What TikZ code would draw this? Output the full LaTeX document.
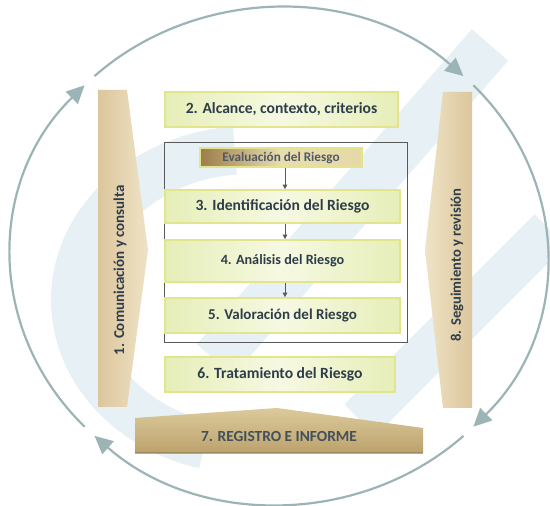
\documentclass[tikz,border=0pt]{standalone}
\usepackage{fontspec}
\setmainfont{Carlito}
\usetikzlibrary{arrows.meta}
\definecolor{arcc}{HTML}{9DB4B6}
\definecolor{txt}{HTML}{2E3D49}
\definecolor{gbord}{HTML}{E2E58A}
\definecolor{gl}{HTML}{E6EEB8}
\definecolor{gm}{HTML}{F6F9E2}
\definecolor{tanA}{HTML}{DCC69C}
\definecolor{tanB}{HTML}{EFE3C6}
\definecolor{goldA}{HTML}{DBCA9C}
\definecolor{goldB}{HTML}{BCA26C}
\definecolor{evA}{HTML}{9C7C4A}
\definecolor{evB}{HTML}{E6D9A8}
\definecolor{wm}{HTML}{E7F0F5}
\newcommand{\fs}[1]{\bfseries\fontsize{#1}{#1}\selectfont}
\tikzset{
  greenbox/.style={rectangle, draw=gbord, line width=1.6pt, left color=gl, right color=gl, middle color=gm,
    text=txt, inner sep=0pt},
  evalbox/.style={rectangle, draw=gbord, line width=1.2pt, left color=evA, right color=evB, middle color=evB!90!white,
    font=\fs{13.2}, text=txt!85, inner sep=0pt},
  framebox/.style={rectangle, draw=black!65, line width=0.8pt, inner sep=0pt},
  tantext/.style={text=txt, inner sep=0pt},
  cyc/.style={draw=arcc, line width=2.2pt, -{Triangle[length=18pt,width=17pt]}},
  flow/.style={draw=black!65, line width=0.8pt, -{Triangle[length=4.5pt,width=4.5pt]}},
  wmband/.style={draw=wm, line width=48pt}
}
\begin{document}
\begin{tikzpicture}[x=1pt,y=1pt]
\useasboundingbox (0,0) rectangle (550,506);
\fill[white] (0,0) rectangle (550,506);
% watermark
\draw[wmband] ([shift={(95:175pt and 150pt)}]250,206) arc[start angle=95, end angle=255, x radius=175pt, y radius=150pt];
\draw[wmband] (215,146) -- (490,461);
\draw[wmband, line width=44pt] (360,86) -- (550,276);
% cycle arcs
\coordinate (C) at (279,250);
\draw[cyc] ([shift={(223.5:268pt and 248pt)}]C) arc[start angle=223.5, end angle=136.5, x radius=268pt, y radius=248pt];
\draw[cyc] ([shift={(133.5:268pt and 248pt)}]C) arc[start angle=133.5, end angle=46.5, x radius=268pt, y radius=248pt];
\draw[cyc] ([shift={(43.5:268pt and 248pt)}]C) arc[start angle=43.5, end angle=-43.5, x radius=268pt, y radius=248pt];
\draw[cyc] ([shift={(-46.5:268pt and 248pt)}]C) arc[start angle=-46.5, end angle=-133.5, x radius=268pt, y radius=248pt];
% side boxes
\shade[left color=tanA, right color=tanB] (98,416) -- (127,416) -- (148,256) -- (127,99) -- (98,99) -- cycle;
\node[tantext, rotate=90, font=\fs{15}] (com) at (120,236) {1. Comunicación y consulta};
\shade[left color=tanB, right color=tanA] (443,414) -- (472,414) -- (472,98) -- (443,98) -- (425,256) -- cycle;
\node[tantext, rotate=90, font=\fs{14.6}] (seg) at (457,241) {8. Seguimiento y revisión};
\shade[top color=goldA, bottom color=goldB] (135,53) -- (135,88) -- (277,98) -- (423,78) -- (423,53) -- cycle;
\draw[goldB!75!black, line width=1.2pt, opacity=0.6] (135,53) -- (423,53);
\node[tantext, font=\fs{15.4}, text=txt!90] (reg) at (279,69) {7. REGISTRO E INFORME};
% central boxes
\node[greenbox, font=\fs{15.6}, minimum width=233pt, minimum height=35pt] (alc) at (281.5,396.5) {2. Alcance, contexto, criterios};
\node[framebox, minimum width=243pt, minimum height=200pt] (frame) at (285.5,264) {};
\node[evalbox, minimum width=162pt, minimum height=19pt] (ev) at (281,348.5) {Evaluación del Riesgo};
\node[greenbox, font=\fs{15.6}, minimum width=235pt, minimum height=33pt] (id) at (282.5,299.5) {3. Identificación del Riesgo};
\node[greenbox, font=\fs{14.2}, minimum width=235pt, minimum height=42pt] (an) at (282.5,245) {4. Análisis del Riesgo};
\node[greenbox, font=\fs{15}, minimum width=235pt, minimum height=35pt] (va) at (282.5,190.5) {5. Valoración del Riesgo};
\node[greenbox, font=\fs{15.6}, minimum width=230pt, minimum height=35pt] (tr) at (280,131.5) {6. Tratamiento del Riesgo};
% flow arrows
\draw[flow] ([xshift=4pt]ev.south) -- ([xshift=4pt]ev.south |- id.north);
\draw[flow] ([xshift=2.5pt]id.south) -- ([xshift=2.5pt]id.south |- an.north);
\draw[flow] ([xshift=2.5pt]an.south) -- ([xshift=2.5pt]an.south |- va.north);
\end{tikzpicture}
\end{document}
